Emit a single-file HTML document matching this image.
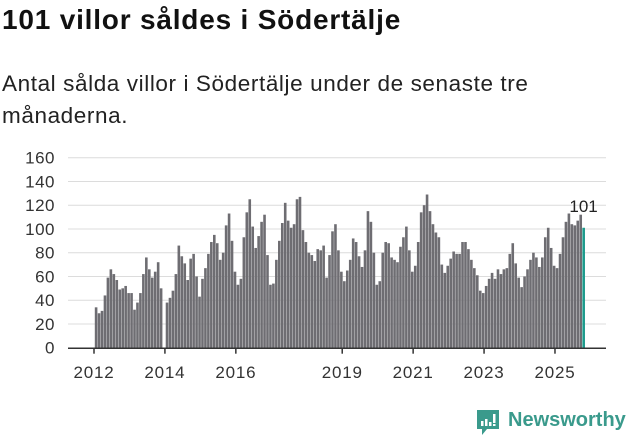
<!DOCTYPE html>
<html><head><meta charset="utf-8"><style>
body{margin:0;width:631px;height:439px;background:#fff;font-family:"Liberation Sans",sans-serif;overflow:hidden;position:relative}
#title{position:absolute;left:2px;top:4px;font-size:28px;letter-spacing:0.8px;font-weight:bold;color:#111;margin:0}
#sub{position:absolute;left:2px;top:68px;font-size:22.5px;letter-spacing:0.6px;line-height:32px;color:#222;width:560px}
svg{position:absolute;left:0;top:0}
</style></head><body>
<h1 id="title">101 villor såldes i Södertälje</h1>
<div id="sub">Antal sålda villor i Södertälje under de senaste tre<br>månaderna.</div>
<svg id="chart" width="631" height="439"></svg>
<script>
const yTicks=[0,20,40,60,80,100,120,140,160];
const xTickYears=[2012,2014,2016,2019,2021,2023,2025];
const values=[34,29,31,44,59,66,62,57,49,50,52,46,46,32,38,46,62,76,66,59,64,72,50,0,
38,42,48,62,86,77,71,57,75,79,60,43,58,67,79,89,95,88,74,80,103,113,90,64,
53,58,93,114,125,102,84,94,106,112,78,53,54,74,90,105,122,107,101,104,125,127,99,89,
80,78,73,83,82,86,59,78,98,104,82,64,56,65,74,92,89,77,68,82,115,106,80,53,
56,80,89,88,76,74,72,85,93,102,82,64,69,89,114,120,129,115,104,97,93,70,63,69,
75,81,79,79,89,89,83,74,67,61,48,46,52,58,63,58,66,62,66,67,79,88,71,59,
51,60,66,74,80,76,68,76,93,101,84,69,67,79,93,106,113,104,103,107,112,101];
const startYear=2012;
const svg=document.getElementById('chart');
const NS='http://www.w3.org/2000/svg';
const x0=95,pitch=2.955,base=347.7,unit=1.1875;
const xOf=i=>x0+i*pitch;
const yearX=y=>x0-1+(y-startYear)*12*pitch;
const yOf=v=>base-v*unit;
function mk(t,a){const e=document.createElementNS(NS,t);for(const k in a)e.setAttribute(k,a[k]);svg.appendChild(e);return e;}
yTicks.forEach(v=>{
  if(v>0){const l=mk('line',{x1:68,x2:606,y1:yOf(v),y2:yOf(v),stroke:'#dcdcdc','stroke-width':1});
  
  }
  const t=mk('text',{x:55,y:yOf(v)+6,'text-anchor':'end','font-size':17,'letter-spacing':0.5,fill:'#333','font-family':'Liberation Sans, sans-serif'});
  t.textContent=v;
  
  
});
values.forEach((v,i)=>{
  const last=i===values.length-1;
  const r=mk('rect',{x:xOf(i)-0.2,y:yOf(v),width:2.6,height:v*unit,fill:last?'#1c9a8c':'#6e6d72'});
  
  
});
const ax=mk('line',{x1:68,x2:606,y1:base+0.5,y2:base+0.5,stroke:'#333','stroke-width':1.5});


xTickYears.forEach(y=>{
  const x=yearX(y);
  const tk=mk('line',{x1:x,x2:x,y1:base,y2:base+6,stroke:'#333','stroke-width':1.5});
  
  
  const t=mk('text',{x:x,y:378,'text-anchor':'middle','font-size':17,'letter-spacing':0.8,fill:'#333','font-family':'Liberation Sans, sans-serif'});
  t.textContent=y;
  
  
});
const li=values.length-1;
const lb=mk('text',{x:xOf(li)+1,y:yOf(values[li])-16,'text-anchor':'middle','font-size':17,fill:'#222','font-family':'Liberation Sans, sans-serif'});
lb.textContent=values[li];


</script>
<div style="position:absolute;left:476px;top:409px;width:152px;height:28px">
<svg width="24" height="27" viewBox="0 0 24 27" style="position:absolute;left:0;top:0"><path d="M1 1h22v19H11l-5 6v-6H1z" fill="#3a9a8c"/><rect x="5" y="12" width="2.5" height="5" fill="#fff"/><rect x="9" y="10" width="2.5" height="7" fill="#fff"/><rect x="13" y="13" width="2.5" height="4" fill="#fff"/><rect x="17" y="5" width="2.5" height="9" fill="#fff"/><rect x="17" y="15" width="2.5" height="2" fill="#fff"/></svg>
<span style="position:absolute;left:32px;top:0px;font-size:20px;font-weight:bold;color:#3a9a8c">Newsworthy</span>
</div>
</body></html>
